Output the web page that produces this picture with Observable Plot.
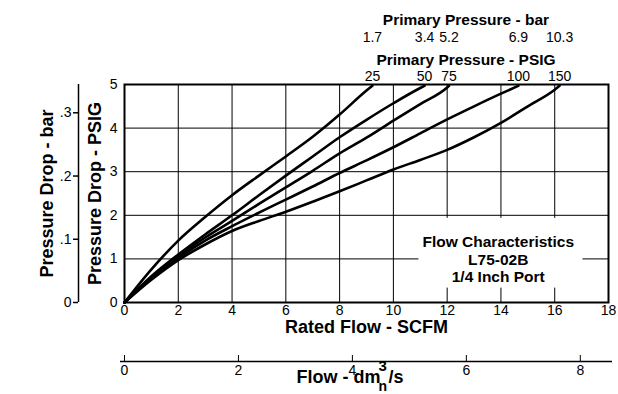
<!DOCTYPE html>
<html><head><meta charset="utf-8">
<script src="https://cdn.jsdelivr.net/npm/d3@7"></script>
<script src="https://cdn.jsdelivr.net/npm/@observablehq/plot@0.6"></script>
<style>html,body{margin:0;padding:0;background:#fff;}</style>
</head><body><div id="chart"></div>
<script>
// ---- data ----
const psigLabels = ["25", "50", "75", "100", "150"];
const barLabels = ["1.7", "3.4", "5.2", "6.9", "10.3"];
// [flow SCFM, pressure drop PSIG]
const curve25 = [[0,0],[1,0.76],[2,1.42],[3,1.96],[4,2.46],[5,2.91],[6,3.35],[7,3.8],[8,4.31],[9,4.86],[9.22,4.97]];
const curve50 = [[0,0],[1,0.6],[2,1.1],[3,1.56],[4,2.0],[5,2.46],[6,2.91],[7,3.35],[8,3.79],[9,4.19],[10,4.57],[11,4.92],[11.16,4.97]];
const curve75 = [[0,0],[1,0.57],[2,1.06],[3,1.49],[4,1.87],[5,2.26],[6,2.64],[7,3.02],[8,3.42],[9,3.78],[10,4.17],[11,4.55],[12,4.93],[12.07,4.97]];
const curve100 = [[0,0],[1,0.55],[2,1.02],[3,1.42],[4,1.75],[5,2.06],[6,2.36],[7,2.66],[8,2.97],[9,3.26],[10,3.56],[11,3.88],[12,4.2],[13,4.5],[14,4.79],[14.65,4.97]];
const curve150 = [[0,0],[1,0.52],[2,0.97],[3,1.33],[4,1.64],[5,1.87],[6,2.08],[7,2.31],[8,2.55],[9,2.8],[10,3.05],[11,3.27],[12,3.5],[13,3.79],[14,4.12],[15,4.5],[16,4.88],[16.18,4.97]];
const xTicks = [0, 2, 4, 6, 8, 10, 12, 14, 16, 18];
const yTicks = [0, 1, 2, 3, 4, 5];
const barTicks = [0, 0.1, 0.2, 0.3];
const dm3Ticks = [0, 2, 4, 6, 8];
const noteLines = ["Flow Characteristics", "L75-02B", "1/4 Inch Port"];

const PSI_PER_BAR = 14.5038;
const SCFM_PER_DM3S = 2.1189;

const curves = [curve25, curve50, curve75, curve100, curve150];
const rows = [];
curves.forEach((c, i) => c.forEach(([flow, drop]) => rows.push({flow, drop, psig: psigLabels[i]})));
const ends = curves.map((c, i) => ({flow: c[c.length - 1][0], psig: psigLabels[i], bar: barLabels[i]}));
const topMid = (d3.min(ends, d => d.flow) + d3.max(ends, d => d.flow)) / 2;

const fmtBar = d => {
  const b = Math.round(d / PSI_PER_BAR * 10) / 10;
  return b === 0 ? "0" : String(b).replace(/^0/, "");
};
const bold = {fontWeight: "bold", fill: "#000"};

const plot = Plot.plot({
  width: 618, height: 394,
  marginTop: 84, marginBottom: 92, marginLeft: 124, marginRight: 10,
  style: {fontFamily: "'Liberation Sans', Arial, Helvetica, sans-serif", fontSize: "14px", color: "#000", background: "#fff"},
  x: {domain: [0, 18], axis: null},
  y: {domain: [0, 5], axis: null},
  marks: [
    Plot.gridX(xTicks, {stroke: "#000", strokeOpacity: 1, strokeWidth: 1}),
    Plot.gridY(yTicks, {stroke: "#000", strokeOpacity: 1, strokeWidth: 1}),
    Plot.rect([0], {x1: () => 10.95, x2: () => 17.05, y1: () => 0.33, y2: () => 1.93, fill: "#fff"}),
    Plot.frame({stroke: "#000", strokeWidth: 2}),
    Plot.axisY({ticks: yTicks, tickFormat: d => String(d), tickSize: 0, tickPadding: 7, label: null}),
    Plot.axisX({ticks: xTicks, tickFormat: d => String(d), tickSize: 0, tickPadding: 3, label: null}),
    // bar axis
    Plot.ruleX([0], {dx: -46, stroke: "#000", strokeWidth: 1.5}),
    Plot.axisY({ticks: barTicks.map(b => b * PSI_PER_BAR), tickFormat: fmtBar, tickSize: 5, tickPadding: 2, dx: -46, label: null, strokeWidth: 1.5}),
    // dm3/s axis
    Plot.ruleY([0], {dy: 59, insetLeft: -4, insetRight: -4, stroke: "#000", strokeWidth: 1.5}),
    Plot.axisX({ticks: dm3Ticks.map(d => d * SCFM_PER_DM3S), tickFormat: d => String(Math.round(d / SCFM_PER_DM3S)), tickSize: -6, tickPadding: 10, dy: 59, label: null}),
    // curves
    Plot.line(rows, {x: "flow", y: "drop", z: "psig", stroke: "#000", strokeWidth: 2.6, curve: "monotone-x"}),
    // top labels
    Plot.text(ends, {x: "flow", frameAnchor: "top", text: "psig", dy: -13, fontSize: 14}),
    Plot.text(ends, {x: "flow", frameAnchor: "top", text: "bar", dy: -52, fontSize: 14}),
    Plot.text(["Primary Pressure - PSIG"], {x: () => topMid, frameAnchor: "top", text: d => d, dy: -31, fontSize: 15.5, ...bold}),
    Plot.text(["Primary Pressure - bar"], {x: () => topMid, frameAnchor: "top", text: d => d, dy: -71, fontSize: 15.5, ...bold}),
    // axis titles
    Plot.text(["Pressure Drop - PSIG"], {frameAnchor: "left", textAnchor: "middle", text: d => d, rotate: -90, dx: -29, fontSize: 18, ...bold}),
    Plot.text(["Pressure Drop - bar"], {frameAnchor: "left", textAnchor: "middle", text: d => d, rotate: -90, dx: -77, fontSize: 18, ...bold}),
    Plot.text(["Rated Flow - SCFM"], {frameAnchor: "bottom", text: d => d, dy: 30, fontSize: 18, ...bold}),
    Plot.text(["Flow - dm"], {frameAnchor: "bottom", text: d => d, textAnchor: "end", dx: 14, dy: 80, fontSize: 18, ...bold}),
    Plot.text(["3"], {frameAnchor: "bottom", text: d => d, textAnchor: "start", dx: 12, dy: 68, fontSize: 15, ...bold}),
    Plot.text(["/s"], {frameAnchor: "bottom", text: d => d, textAnchor: "start", dx: 22, dy: 80, fontSize: 18, ...bold}),
    Plot.text(["n"], {frameAnchor: "bottom", text: d => d, textAnchor: "start", dx: 12, dy: 88, fontSize: 14, ...bold}),
    // note
    Plot.text([noteLines.join("\n")], {x: () => 13.9, y: () => 1, text: d => d, lineHeight: 1.15, fontSize: 15.5, ...bold})
  ]
});
document.getElementById("chart").appendChild(plot);
</script>
</body></html>
